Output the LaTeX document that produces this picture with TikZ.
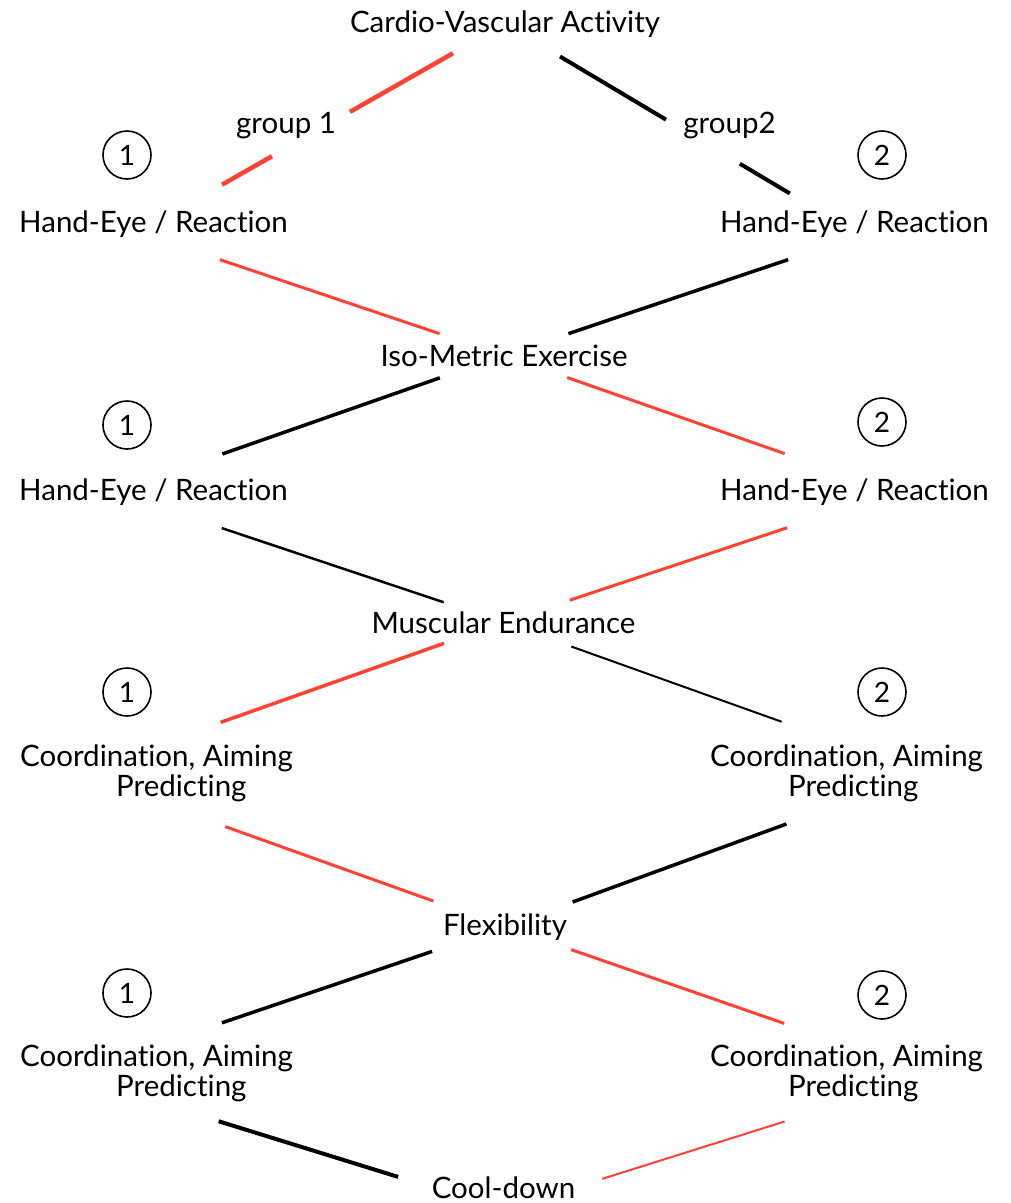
\documentclass[tikz,border=0pt]{standalone}
\usepackage{fontspec}
\setmainfont{Lato}[Ligatures=NoCommon]
\usetikzlibrary{calc}
\definecolor{rdline}{rgb}{1,0.26,0.2}

\begin{document}
\begin{tikzpicture}[x=1pt,y=-1pt,
  lbl/.style={inner sep=0pt,font=\fontsize{29.5}{29.5}\selectfont},
  two/.style={lbl,align=left,anchor=north west},
  num/.style={circle,draw,line width=1.6pt,minimum size=48pt,inner sep=0pt,font=\fontsize{28}{28}\selectfont},
  rl/.style={draw=rdline},
  bl/.style={draw=black}]
\useasboundingbox (0,0) rectangle (1011,1203);
% stations
\node[lbl,anchor=base] (cardio) at (505,32) {Cardio-Vascular Activity};
\node[lbl,anchor=base] (grpA) at (286,133) {group 1};
\node[lbl,anchor=base] (grpB) at (729.5,133) {group2};
\node[lbl,anchor=base] (heLa) at (153.5,232) {Hand-Eye / Reaction};
\node[lbl,anchor=base] (heRa) at (854.5,232) {Hand-Eye / Reaction};
\node[lbl,anchor=base] (iso) at (504,366) {Iso-Metric Exercise};
\node[lbl,anchor=base] (heLb) at (153.5,500) {Hand-Eye / Reaction};
\node[lbl,anchor=base] (heRb) at (854.5,500) {Hand-Eye / Reaction};
\node[lbl,anchor=base] (musc) at (503.5,633) {Muscular Endurance};
\node[two] (coLa) at (20,745) {Coordination, Aiming\\\hspace*{96pt}Predicting};
\node[two] (coRa) at (710,745) {Coordination, Aiming\\\hspace*{78pt}Predicting};
\node[lbl,anchor=base] (flex) at (505,935) {Flexibility};
\node[two] (coLb) at (20,1045) {Coordination, Aiming\\\hspace*{96pt}Predicting};
\node[two] (coRb) at (710,1045) {Coordination, Aiming\\\hspace*{78pt}Predicting};
\node[lbl,anchor=base] (cool) at (503.5,1198) {Cool-down};
% group numbers
\node[num] (oneA) at (127,155) {1};
\node[num] (twoA) at (882,155) {2};
\node[num] (oneB) at (127,425) {1};
\node[num] (twoB) at (882,422) {2};
\node[num] (oneC) at (127,692) {1};
\node[num] (twoC) at (882,692) {2};
\node[num] (oneD) at (127,993) {1};
\node[num] (twoD) at (882,995) {2};
% start, split round the group labels
\coordinate (aimR) at ([xshift=-14pt]heRa.center);
\draw[rl,line width=4.5pt] ($(cardio.center)!.148!(heLa.center)$) -- ($(cardio.center)!.441!(heLa.center)$);
\draw[rl,line width=4.5pt] ($(cardio.center)!.663!(heLa.center)$) -- ($(cardio.center)!.805!(heLa.center)$);
\draw[bl,line width=4pt] ($(cardio.center)!.164!(aimR)$) -- ($(cardio.center)!.480!(aimR)$);
\draw[bl,line width=4pt] ($(cardio.center)!.700!(aimR)$) -- ($(cardio.center)!.849!(aimR)$);
% crossings
\draw[rl,line width=3pt,shorten <=70pt,shorten >=68pt] (heLa.south) -- (iso.center);
\draw[bl,line width=3.5pt,shorten <=70pt,shorten >=68pt] (heRa.south) -- (iso.center);
\draw[bl,line width=3.5pt,shorten <=68pt,shorten >=73pt] (iso.center) -- (heLb.north);
\draw[rl,line width=3pt,shorten <=67pt,shorten >=74pt] (iso.center) -- (heRb.north);
\draw[bl,line width=2.5pt,shorten <=72pt,shorten >=63pt] (heLb.south) -- (musc.center);
\draw[rl,line width=3pt,shorten <=71pt,shorten >=70pt] (heRb.south) -- (musc.center);
\draw[rl,line width=3.5pt,shorten <=63pt,shorten >=68pt] (musc.center) -- (coLa.north);
\draw[bl,line width=2pt,shorten <=72pt,shorten >=69pt] (musc.center) -- (coRa.north);
\draw[rl,line width=3pt,shorten <=73pt,shorten >=76pt] (coLa.south) -- (flex.center);
\draw[bl,line width=3.5pt,shorten <=64pt,shorten >=72pt] (coRa.south) -- (flex.center);
\draw[bl,line width=3.5pt,shorten <=77pt,shorten >=69pt] (flex.center) -- (coLb.north);
\draw[rl,line width=3pt,shorten <=70pt,shorten >=66pt] (flex.center) -- (coRb.north);
\draw[bl,line width=4pt,shorten <=65pt,shorten >=35pt] (coLb.south) -- (cool.west);
\draw[rl,line width=2pt,shorten <=65pt,shorten >=28pt] (coRb.south) -- (cool.east);
\end{tikzpicture}
\end{document}
